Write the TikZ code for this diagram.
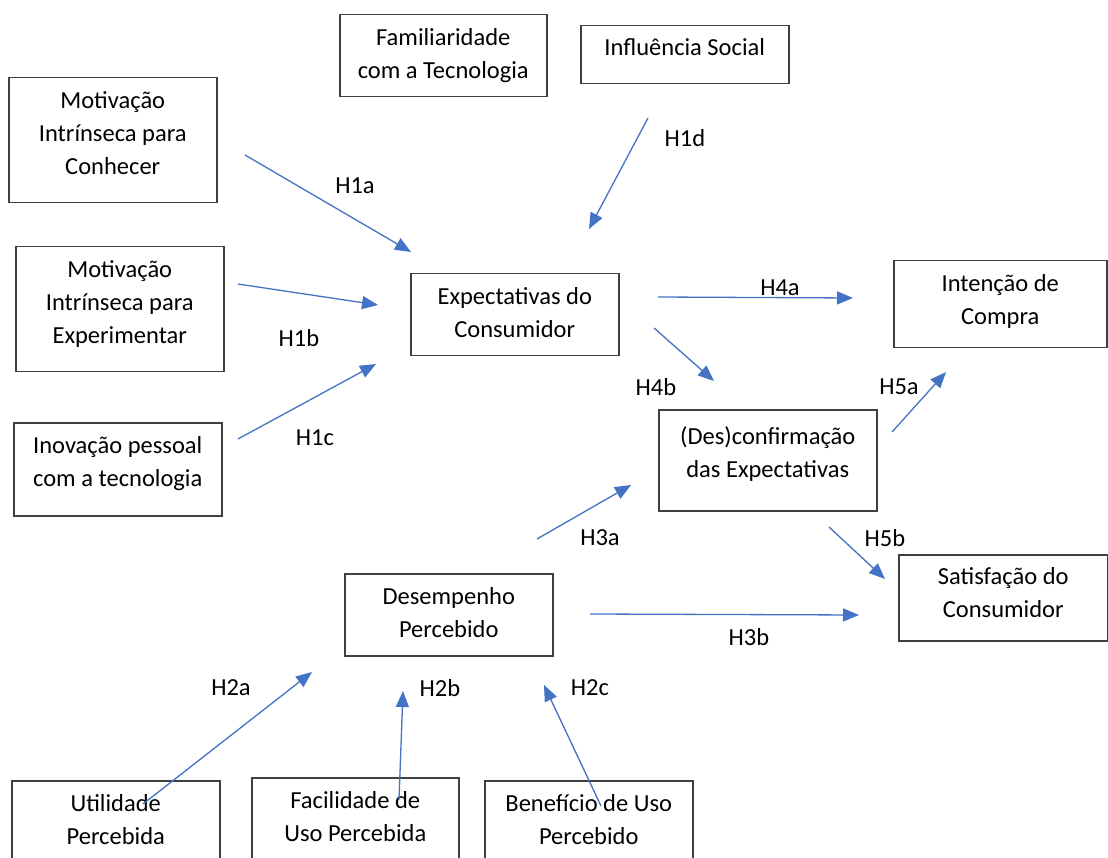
\documentclass[tikz,border=0pt]{standalone}
\usepackage{fontspec}
\setmainfont{Carlito}
\usetikzlibrary{arrows.meta}
\definecolor{arr}{HTML}{4472C4}
\definecolor{bord}{HTML}{404040}
\begin{document}
\begin{tikzpicture}[x=1pt,y=-1pt,
 box/.style={draw=bord,line width=1.5pt,inner sep=0pt,anchor=north west},
 txt/.style={font=\fontsize{24.5}{33}\selectfont,align=center,inner sep=0pt,anchor=north,text=black},
 lbl/.style={font=\fontsize{24.5}{33}\selectfont,inner sep=0pt,text=black},
 link/.style={draw=arr,line width=1.3pt,-{Triangle[length=16pt,width=13pt]}}]
\useasboundingbox[fill=white] (0,0) rectangle (1108,858);
\clip (0,0) rectangle (1108,858);
% boxes
\node[box,minimum width=207pt,minimum height=82pt] (fam) at (339,14) {};
\node[box,minimum width=208pt,minimum height=58pt] (inf) at (580,25) {};
\node[box,minimum width=208pt,minimum height=125pt] (mic) at (8,77) {};
\node[box,minimum width=208pt,minimum height=125pt] (mie) at (15,246) {};
\node[box,minimum width=208pt,minimum height=93pt] (ino) at (13,422) {};
\node[box,minimum width=208pt,minimum height=82pt] (exp) at (410,273) {};
\node[box,minimum width=213pt,minimum height=87pt] (int) at (893,260) {};
\node[box,minimum width=218pt,minimum height=101pt] (des) at (658,409) {};
\node[box,minimum width=209pt,minimum height=86pt] (sat) at (898,554) {};
\node[box,minimum width=208pt,minimum height=82pt] (dem) at (344,573) {};
\node[box,minimum width=208pt,minimum height=100pt] (uti) at (11,780) {};
\node[box,minimum width=207pt,minimum height=100pt] (fac) at (251,777) {};
\node[box,minimum width=208pt,minimum height=100pt] (ben) at (484,780) {};
% texts
\node[txt] (famt) at ([yshift=-8pt]fam.north) {\strut Familiaridade\\com a Tecnologia};
\node[txt] (inft) at ([yshift=-7pt]inf.north) {\strut Influência Social};
\node[txt] (mict) at ([yshift=-8pt]mic.north) {\strut Motivação\\Intrínseca para\\Conhecer};
\node[txt] (miet) at ([yshift=-8pt]mie.north) {\strut Motivação\\Intrínseca para\\Experimentar};
\node[txt] (inot) at ([yshift=-8pt]ino.north) {\strut Inovação pessoal\\com a tecnologia};
\node[txt] (expt) at ([yshift=-8pt]exp.north) {\strut Expectativas do\\Consumidor};
\node[txt] (intt) at ([yshift=-8pt]int.north) {\strut Intenção de\\Compra};
\node[txt] (dest) at ([yshift=-12pt]des.north) {\strut (Des)confirmação\\das Expectativas};
\node[txt] (satt) at ([yshift=-7pt]sat.north) {\strut Satisfação do\\Consumidor};
\node[txt] (demt) at ([yshift=-8pt]dem.north) {\strut Desempenho\\Percebido};
\node[txt] (utit) at ([yshift=-8pt]uti.north) {\strut Utilidade\\Percebida};
\node[txt] (fact) at ([yshift=-8pt]fac.north) {\strut Facilidade de\\Uso Percebida};
\node[txt] (bent) at ([yshift=-8pt]ben.north) {\strut Benefício de Uso\\Percebido};
% arrow end points
\coordinate (a1s) at (245,155); \coordinate (a1e) at (411,252);
\coordinate (d1s) at (648,118); \coordinate (d1e) at (589,229);
\coordinate (b1s) at (238,284); \coordinate (b1e) at (378,305);
\coordinate (c1s) at (238,439); \coordinate (c1e) at (376,364);
\coordinate (a4s) at (658,297); \coordinate (a4e) at (853,298);
\coordinate (b4s) at (654,328); \coordinate (b4e) at (714,381);
\coordinate (a5s) at (892,432); \coordinate (a5e) at (946,372);
\coordinate (a3s) at (537,539); \coordinate (a3e) at (631,485);
\coordinate (b5s) at (829,527); \coordinate (b5e) at (885,579);
\coordinate (b3s) at (590,614); \coordinate (b3e) at (859,615);
\coordinate (a2s) at (143,804); \coordinate (a2e) at (312,672);
\coordinate (b2s) at (399,800); \coordinate (b2e) at (403,691);
\coordinate (c2s) at (601,806); \coordinate (c2e) at (544,685);
% arrows
\draw[link] (a1s) -- (a1e);
\draw[link] (d1s) -- (d1e);
\draw[link] (b1s) -- (b1e);
\draw[link] (c1s) -- (c1e);
\draw[link] (a4s) -- (a4e);
\draw[link] (b4s) -- (b4e);
\draw[link] (a5s) -- (a5e);
\draw[link] (a3s) -- (a3e);
\draw[link] (b5s) -- (b5e);
\draw[link] (b3s) -- (b3e);
\draw[link] (a2s) -- (a2e);
\draw[link] (b2s) -- (b2e);
\draw[link] (c2s) -- (c2e);
% labels
\node[lbl] (l1a) at (355,186) {H1a};
\node[lbl] (l1d) at (685,138) {H1d};
\node[lbl] (l1b) at (299,338) {H1b};
\node[lbl] (l1c) at (315,438) {H1c};
\node[lbl] (l4a) at (780,288) {H4a};
\node[lbl] (l4b) at (656,387) {H4b};
\node[lbl] (l5a) at (899,387) {H5a};
\node[lbl] (l3a) at (600,538) {H3a};
\node[lbl] (l5b) at (885,538) {H5b};
\node[lbl] (l3b) at (749,637) {H3b};
\node[lbl] (l2a) at (231,688) {H2a};
\node[lbl] (l2b) at (440,688) {H2b};
\node[lbl] (l2c) at (590,688) {H2c};
\end{tikzpicture}
\end{document}
